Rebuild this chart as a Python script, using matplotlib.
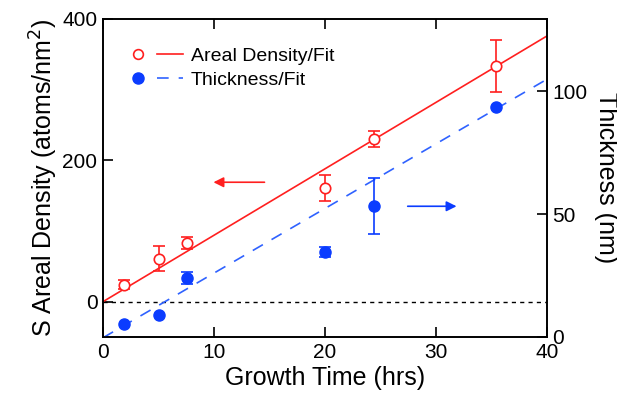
import matplotlib
matplotlib.use("Agg")
import matplotlib.pyplot as plt
import numpy as np
from matplotlib.lines import Line2D
from matplotlib.legend_handler import HandlerTuple

plt.rcParams['font.family'] = ['Liberation Sans', 'DejaVu Sans']

time_hrs = [1.9, 5.0, 7.6, 20.0, 24.4, 35.4]
areal_density = [24, 61, 83, 161, 230, 333]
areal_err = [6, 18, 8.5, 18, 11, 37]
thickness = [5.3, 9.0, 24.0, 34.7, 53.5, 93.5]
thickness_err = [0, 0, 2.4, 2.0, 11.4, 0]
areal_fit = (9.4, 0.0)       # slope, intercept
thick_fit = (2.63, -0.3)     # slope, intercept
x_ticks = [0, 10, 20, 30, 40]
left_ticks = [0, 200, 400]
right_ticks = [0, 50, 100]

red = '#ff1f1f'
blue = '#0b3cff'
blue_line = '#2f62ff'

fig = plt.figure(figsize=(6.17, 3.98), dpi=100)
ax = fig.add_axes([103/617, 1-337/398, (547-103)/617, (337-19)/398])
ax2 = ax.twinx()

xf = np.array([0, 40])
ax.plot(xf, areal_fit[0]*xf + areal_fit[1], color=red, lw=1.2, zorder=2)
ax.axhline(0, color='black', lw=1.0, ls=(0, (3, 3)), zorder=1)
ax.errorbar(time_hrs, areal_density, yerr=areal_err, fmt='o', mfc='white', mec=red,
            ecolor=red, color=red, ms=7.5, mew=1.2, capsize=4, elinewidth=1.2, capthick=1.2, zorder=3)

ax2.plot(xf, thick_fit[0]*xf + thick_fit[1], color=blue_line, lw=1.2, ls=(0, (7, 6)), zorder=2)
yerr_t = np.array(thickness_err, dtype=float)
ax2.errorbar(time_hrs, thickness, yerr=np.where(yerr_t > 0, yerr_t, np.nan), fmt='o', color=blue,
             ecolor=blue, ms=8, capsize=4, elinewidth=1.2, capthick=1.2, zorder=3)

ax.set_xlim(0, 40)
ax.set_ylim(-50, 400)
ax2.set_ylim(0, 129.4)
ax.set_xticks(x_ticks)
ax.set_yticks(left_ticks)
ax2.set_yticks(right_ticks)

for a in (ax, ax2):
    a.tick_params(direction='in', length=7, width=1.2, labelsize=15, pad=4)
    for s in a.spines.values():
        s.set_linewidth(1.2)
ax.tick_params(top=True)
ax.set_xlabel('Growth Time (hrs)', fontsize=18, labelpad=3)
ax.set_ylabel('S Areal Density (atoms/nm$^2$)', fontsize=18, labelpad=2)
ax2.set_ylabel('Thickness (nm)', fontsize=18, rotation=-90, labelpad=22)

# arrows
ax.annotate('', xy=(9.7, 169), xytext=(14.8, 169),
            arrowprops=dict(arrowstyle='-|>', color=red, lw=1.2, mutation_scale=15))
ax.annotate('', xy=(32.1, 135), xytext=(27.2, 135),
            arrowprops=dict(arrowstyle='-|>', color=blue, lw=1.2, mutation_scale=15))

m1 = Line2D([], [], marker='o', ls='none', mfc='white', mec=red, ms=7, mew=1.2)
l1 = Line2D([], [], color=red, lw=1.2)
m2 = Line2D([], [], marker='o', ls='none', color=blue, ms=8)
l2 = Line2D([], [], color=blue_line, lw=1.2, ls=(0, (7, 6)))
ax.legend([(m1, l1), (m2, l2)], ['Areal Density/Fit', 'Thickness/Fit'],
          handler_map={tuple: HandlerTuple(ndivide=None, pad=0.3)},
          loc='upper left', bbox_to_anchor=(0.032, 0.935), frameon=False, fontsize=14,
          handlelength=3.0, handletextpad=0.4, labelspacing=0.3, borderaxespad=0)

fig.savefig('out.png', dpi=100)
